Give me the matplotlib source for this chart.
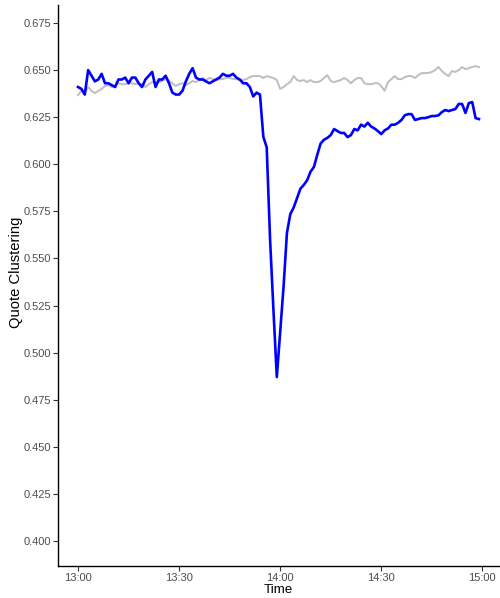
import numpy as np
import matplotlib.pyplot as plt

plt.rcParams['font.family'] = ['Liberation Sans', 'DejaVu Sans']

# minutes after 13:00
minutes = np.arange(120)

# quote clustering, stock of interest (blue)
clustering_stock = [
    0.641, 0.640, 0.637, 0.650, 0.647, 0.644, 0.645, 0.648, 0.643, 0.643,
    0.642, 0.641, 0.645, 0.645, 0.646, 0.643, 0.646, 0.646, 0.643, 0.641,
    0.645, 0.647, 0.649, 0.641, 0.645, 0.645, 0.647, 0.643, 0.638, 0.637,
    0.637, 0.639, 0.644, 0.648, 0.651, 0.646, 0.645, 0.645, 0.644, 0.643,
    0.644, 0.645, 0.646, 0.648, 0.647, 0.647, 0.648, 0.646, 0.645, 0.643,
    0.643, 0.641, 0.636, 0.638, 0.637, 0.6145, 0.609, 0.560, 0.5225, 0.487,
    0.511, 0.535, 0.5635, 0.5735, 0.577, 0.582, 0.587, 0.589, 0.5915, 0.596,
    0.5985, 0.605, 0.611, 0.613, 0.614, 0.6155, 0.6187, 0.6176, 0.6166, 0.6166,
    0.6144, 0.6155, 0.6187, 0.618, 0.621, 0.620, 0.622, 0.620, 0.619, 0.6176,
    0.616, 0.618, 0.619, 0.621, 0.621, 0.622, 0.6235, 0.626, 0.6266, 0.6266,
    0.6235, 0.624, 0.6245, 0.6245, 0.625, 0.6256, 0.6256, 0.626, 0.6277, 0.6288,
    0.6282, 0.6288, 0.6293, 0.632, 0.632, 0.6272, 0.6325, 0.633, 0.6245, 0.624,
]

# quote clustering, comparison group (grey)
clustering_control = [
    0.6367, 0.639, 0.6378, 0.641, 0.639, 0.6378, 0.6389, 0.640, 0.6415, 0.642,
    0.641, 0.642, 0.643, 0.6425, 0.6425, 0.643, 0.643, 0.6425, 0.643, 0.6425,
    0.641, 0.6425, 0.6436, 0.6436, 0.6436, 0.6442, 0.6452, 0.6442, 0.643, 0.6415,
    0.6425, 0.643, 0.642, 0.643, 0.6442, 0.6436, 0.6447, 0.6458, 0.6447, 0.6458,
    0.6452, 0.6447, 0.6452, 0.6452, 0.6458, 0.6458, 0.6452, 0.6452, 0.6447, 0.6447,
    0.6452, 0.6463, 0.6468, 0.6468, 0.6468, 0.6458, 0.6468, 0.6463, 0.6458, 0.6447,
    0.640, 0.641, 0.6425, 0.6436, 0.6468, 0.6447, 0.6442, 0.6447, 0.6436, 0.6447,
    0.6436, 0.6436, 0.6442, 0.6458, 0.6473, 0.6442, 0.6436, 0.6442, 0.6447, 0.6458,
    0.6447, 0.643, 0.6447, 0.6458, 0.6458, 0.643, 0.6425, 0.6425, 0.643, 0.643,
    0.6415, 0.639, 0.6436, 0.6452, 0.6468, 0.6452, 0.6452, 0.6463, 0.6468, 0.6468,
    0.6458, 0.6473, 0.6484, 0.6484, 0.6484, 0.649, 0.650, 0.6516, 0.6495, 0.6479,
    0.6468, 0.6495, 0.649, 0.650, 0.6516, 0.6505, 0.651, 0.6516, 0.6521, 0.6516,
]

x_ticks = [0, 30, 60, 90, 120]
x_labels = ['13:00', '13:30', '14:00', '14:30', '15:00']
y_ticks = np.arange(0.400, 0.676, 0.025)

fig = plt.figure(figsize=(5.0, 5.98), dpi=100)
ax = fig.add_axes([0.116, 0.0535, 0.882, 0.938])

ax.plot(minutes, clustering_control, color='#BEBEBE', lw=1.4)
ax.plot(minutes, clustering_stock, color='#0000FF', lw=1.9)

ax.set_xlim(-5.95, 124.95)
ax.set_ylim(0.3867, 0.6845)
ax.set_xticks(x_ticks)
ax.set_xticklabels(x_labels)
ax.set_yticks(y_ticks)
ax.set_yticklabels([f'{v:.3f}' for v in y_ticks])

for side in ['top', 'right']:
    ax.spines[side].set_visible(False)
for side in ['left', 'bottom']:
    ax.spines[side].set_linewidth(1.0)
    ax.spines[side].set_color('black')

ax.tick_params(axis='both', length=3.6, width=0.8, color='#333333',
               labelsize=8.0, labelcolor='#4D4D4D', pad=1.5)

ax.set_xlabel('Time', fontsize=9.6, va='center')
ax.set_ylabel('Quote Clustering', fontsize=10.6, va='center')
ax.xaxis.set_label_coords(0.5, -0.043)
ax.yaxis.set_label_coords(-0.096, 0.523)

fig.savefig('out.png', dpi=100)
